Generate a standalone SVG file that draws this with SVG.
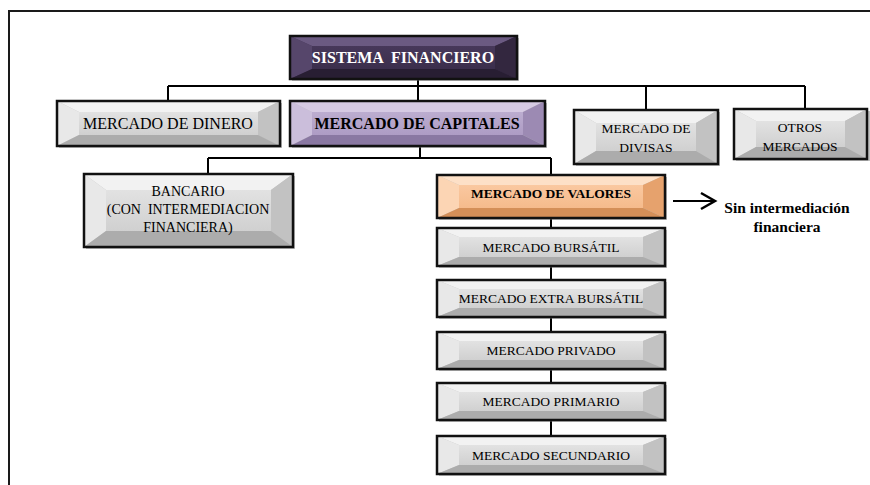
<svg xmlns="http://www.w3.org/2000/svg" width="870" height="485" viewBox="0 0 870 485">
<style>
.frame{fill:none;stroke:#1a1a1a;stroke-width:2}
.conn line,.conn polyline{stroke:#000;stroke-width:2;fill:none}
.edge{fill:none;stroke:#111;stroke-width:2.5}
.shadow{fill:#7a7a7a;opacity:.45}
.g-c{fill:url(#gC)}.g-t{fill:#f2f2f2}.g-l{fill:#e8e8e8}.g-r{fill:#c2c2c2}.g-b{fill:#acacac}
.p-c{fill:url(#pC)}.p-t{fill:#6b5a82}.p-l{fill:#56466b}.p-r{fill:#33273f}.p-b{fill:#281e33}
.l-c{fill:url(#lC)}.l-t{fill:#d6cae3}.l-l{fill:#cbbedb}.l-r{fill:#9c8ab3}.l-b{fill:#8a78a2}
.o-c{fill:url(#oC)}.o-t{fill:#fde0c7}.o-l{fill:#fcd5b4}.o-r{fill:#e6a26d}.o-b{fill:#d48f58}
text{font-family:"Liberation Serif","Times New Roman",serif;text-anchor:middle;fill:#000;white-space:pre}
.b{font-weight:bold}
.w{fill:#fff}
</style>
<defs>
<linearGradient id="gC" x1="0" y1="0" x2="0" y2="1"><stop offset="0" stop-color="#e2e2e2"/><stop offset="1" stop-color="#d0d0d0"/></linearGradient>
<linearGradient id="pC" x1="0" y1="0" x2="0" y2="1"><stop offset="0" stop-color="#47385a"/><stop offset="1" stop-color="#3b2e4c"/></linearGradient>
<linearGradient id="lC" x1="0" y1="0" x2="0" y2="1"><stop offset="0" stop-color="#bcadd0"/><stop offset="1" stop-color="#ae9cc4"/></linearGradient>
<linearGradient id="oC" x1="0" y1="0" x2="0" y2="1"><stop offset="0" stop-color="#fac8a0"/><stop offset="1" stop-color="#f5bb8c"/></linearGradient>
</defs>
<rect width="870" height="485" fill="#fff"/>
<path class="frame" d="M9,485 V11 H870"/>

<g id="connectors" class="conn">
<line x1="418" y1="79" x2="418" y2="101"/>
<line x1="168" y1="86" x2="805" y2="86"/>
<line x1="168" y1="86" x2="168" y2="101"/>
<line x1="646" y1="86" x2="646" y2="110"/>
<line x1="805" y1="86" x2="805" y2="109"/>
<line x1="420" y1="146" x2="420" y2="158"/>
<line x1="208" y1="158" x2="551" y2="158"/>
<line x1="208" y1="158" x2="208" y2="174"/>
<line x1="551" y1="158" x2="551" y2="175"/>
<line x1="551" y1="218" x2="551" y2="228"/>
<line x1="551" y1="266" x2="551" y2="280"/>
<line x1="551" y1="317" x2="551" y2="332"/>
<line x1="551" y1="369" x2="551" y2="383"/>
<line x1="551" y1="420" x2="551" y2="436"/>
<line x1="673" y1="201" x2="713" y2="201"/>
<polyline points="701,193 715,201 701,209" style="stroke-width:2.5"/>
</g>

<g id="sistema">
<rect class="shadow" x="292" y="38" width="227" height="43"/>
<rect class="p-c" x="290" y="36" width="227" height="43"/>
<polygon class="p-t" points="290,36 517,36 495,46 312,46"/>
<polygon class="p-l" points="290,36 312,46 312,69 290,79"/>
<polygon class="p-r" points="517,36 517,79 495,69 495,46"/>
<polygon class="p-b" points="290,79 312,69 495,69 517,79"/>
<rect class="p-c" x="312" y="46" width="183" height="23"/>
<rect class="edge" x="290" y="36" width="227" height="43"/>
<text class="b w" x="403" y="63" font-size="16">SISTEMA  FINANCIERO</text>
</g>

<g id="dinero">
<rect class="shadow" x="59" y="103" width="223" height="45"/>
<polygon class="g-t" points="57,101 280,101 258,112 79,112"/>
<polygon class="g-l" points="57,101 79,112 79,135 57,146"/>
<polygon class="g-r" points="280,101 280,146 258,135 258,112"/>
<polygon class="g-b" points="57,146 79,135 258,135 280,146"/>
<rect class="g-c" x="79" y="112" width="179" height="23"/>
<rect class="edge" x="57" y="101" width="223" height="45"/>
<text x="168" y="129" font-size="16">MERCADO DE DINERO</text>
</g>

<g id="capitales">
<rect class="shadow" x="292" y="103" width="255" height="45"/>
<polygon class="l-t" points="290,101 545,101 523,112 312,112"/>
<polygon class="l-l" points="290,101 312,112 312,135 290,146"/>
<polygon class="l-r" points="545,101 545,146 523,135 523,112"/>
<polygon class="l-b" points="290,146 312,135 523,135 545,146"/>
<rect class="l-c" x="312" y="112" width="211" height="23"/>
<rect class="edge" x="290" y="101" width="255" height="45"/>
<text class="b" x="417" y="129" font-size="16">MERCADO DE CAPITALES</text>
</g>

<g id="divisas">
<rect class="shadow" x="576" y="112" width="144" height="54"/>
<polygon class="g-t" points="574,110 718,110 696,123 596,123"/>
<polygon class="g-l" points="574,110 596,123 596,151 574,164"/>
<polygon class="g-r" points="718,110 718,164 696,151 696,123"/>
<polygon class="g-b" points="574,164 596,151 696,151 718,164"/>
<rect class="g-c" x="596" y="123" width="100" height="28"/>
<rect class="edge" x="574" y="110" width="144" height="54"/>
<text x="646" y="133" font-size="13.5">MERCADO DE</text>
<text x="646" y="152" font-size="13.5">DIVISAS</text>
</g>

<g id="otros">
<rect class="shadow" x="736" y="111" width="134" height="50"/>
<polygon class="g-t" points="734,109 867,109 845,121 756,121"/>
<polygon class="g-l" points="734,109 756,121 756,147 734,159"/>
<polygon class="g-r" points="867,109 867,159 845,147 845,121"/>
<polygon class="g-b" points="734,159 756,147 845,147 867,159"/>
<rect class="g-c" x="756" y="121" width="89" height="26"/>
<rect class="edge" x="734" y="109" width="133" height="50"/>
<text x="800" y="132" font-size="13.5">OTROS</text>
<text x="800" y="151" font-size="13.5">MERCADOS</text>
</g>

<g id="bancario">
<rect class="shadow" x="86" y="176" width="209" height="73"/>
<polygon class="g-t" points="84,174 293,174 271,190 106,190"/>
<polygon class="g-l" points="84,174 106,190 106,231 84,247"/>
<polygon class="g-r" points="293,174 293,247 271,231 271,190"/>
<polygon class="g-b" points="84,247 106,231 271,231 293,247"/>
<rect class="g-c" x="106" y="190" width="165" height="41"/>
<rect class="edge" x="84" y="174" width="209" height="73"/>
<text x="188" y="196" font-size="14">BANCARIO</text>
<text x="188" y="214" font-size="14">(CON  INTERMEDIACION</text>
<text x="188" y="232" font-size="14">FINANCIERA)</text>
</g>

<g id="valores">
<rect class="shadow" x="439" y="177" width="228" height="43"/>
<polygon class="o-t" points="437,175 665,175 643,185 459,185"/>
<polygon class="o-l" points="437,175 459,185 459,208 437,218"/>
<polygon class="o-r" points="665,175 665,218 643,208 643,185"/>
<polygon class="o-b" points="437,218 459,208 643,208 665,218"/>
<rect class="o-c" x="459" y="185" width="184" height="23"/>
<rect class="edge" x="437" y="175" width="228" height="43"/>
<text class="b" x="551" y="198" font-size="13.5">MERCADO DE VALORES</text>
</g>

<g id="sin-intermediacion">
<text class="b" x="787" y="213" font-size="15.5">Sin intermediación</text>
<text class="b" x="787" y="232" font-size="15.5">financiera</text>
</g>

<g id="bursatil">
<rect class="shadow" x="439" y="230" width="228" height="38"/>
<polygon class="g-t" points="437,228 665,228 643,237 459,237"/>
<polygon class="g-l" points="437,228 459,237 459,257 437,266"/>
<polygon class="g-r" points="665,228 665,266 643,257 643,237"/>
<polygon class="g-b" points="437,266 459,257 643,257 665,266"/>
<rect class="g-c" x="459" y="237" width="184" height="20"/>
<rect class="edge" x="437" y="228" width="228" height="38"/>
<text x="551" y="252" font-size="13.5">MERCADO BURSÁTIL</text>
</g>

<g id="extra-bursatil">
<rect class="shadow" x="439" y="282" width="228" height="37"/>
<polygon class="g-t" points="437,280 665,280 643,289 459,289"/>
<polygon class="g-l" points="437,280 459,289 459,308 437,317"/>
<polygon class="g-r" points="665,280 665,317 643,308 643,289"/>
<polygon class="g-b" points="437,317 459,308 643,308 665,317"/>
<rect class="g-c" x="459" y="289" width="184" height="19"/>
<rect class="edge" x="437" y="280" width="228" height="37"/>
<text x="551" y="303" font-size="13.5">MERCADO EXTRA BURSÁTIL</text>
</g>

<g id="privado">
<rect class="shadow" x="439" y="334" width="228" height="37"/>
<polygon class="g-t" points="437,332 665,332 643,341 459,341"/>
<polygon class="g-l" points="437,332 459,341 459,360 437,369"/>
<polygon class="g-r" points="665,332 665,369 643,360 643,341"/>
<polygon class="g-b" points="437,369 459,360 643,360 665,369"/>
<rect class="g-c" x="459" y="341" width="184" height="19"/>
<rect class="edge" x="437" y="332" width="228" height="37"/>
<text x="551" y="355" font-size="13.5">MERCADO PRIVADO</text>
</g>

<g id="primario">
<rect class="shadow" x="439" y="385" width="228" height="37"/>
<polygon class="g-t" points="437,383 665,383 643,392 459,392"/>
<polygon class="g-l" points="437,383 459,392 459,411 437,420"/>
<polygon class="g-r" points="665,383 665,420 643,411 643,392"/>
<polygon class="g-b" points="437,420 459,411 643,411 665,420"/>
<rect class="g-c" x="459" y="392" width="184" height="19"/>
<rect class="edge" x="437" y="383" width="228" height="37"/>
<text x="551" y="406" font-size="13.5">MERCADO PRIMARIO</text>
</g>

<g id="secundario">
<rect class="shadow" x="439" y="438" width="228" height="38"/>
<polygon class="g-t" points="437,436 665,436 643,445 459,445"/>
<polygon class="g-l" points="437,436 459,445 459,465 437,474"/>
<polygon class="g-r" points="665,436 665,474 643,465 643,445"/>
<polygon class="g-b" points="437,474 459,465 643,465 665,474"/>
<rect class="g-c" x="459" y="445" width="184" height="20"/>
<rect class="edge" x="437" y="436" width="228" height="38"/>
<text x="551" y="460" font-size="13.5">MERCADO SECUNDARIO</text>
</g>
</svg>
